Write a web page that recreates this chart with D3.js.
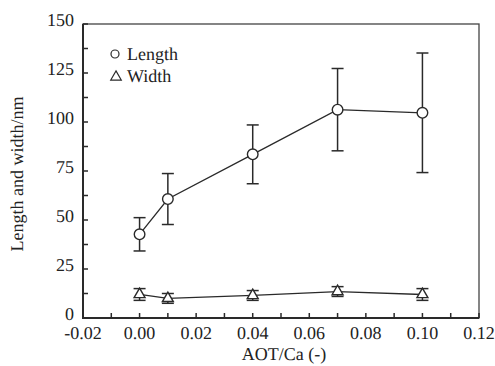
<!DOCTYPE html>
<html>
<head>
  <meta charset="UTF-8">
  <title>Length and width vs AOT/Ca</title>
  <script src="https://d3js.org/d3.v7.min.js"></script>
  <style>
    body { margin: 0; background: #fff; }
  </style>
</head>
<body>
  <script>
    // values
    const aotCa = [0.00, 0.01, 0.04, 0.07, 0.10];
    const lengthMean = [42.7, 60.7, 83.5, 106.3, 104.7];
    const lengthErr = [8.5, 13, 15, 21, 30.5];
    const widthMean = [12, 10, 11.5, 13.5, 12];
    const widthErr = [3, 2.5, 2.5, 2.5, 3];
    const xTicks = [-0.02, 0.00, 0.02, 0.04, 0.06, 0.08, 0.10, 0.12];
    const yTicks = [0, 25, 50, 75, 100, 125, 150];

    const W = 495, H = 366;
    const plot = { left: 83, right: 479, top: 24, bottom: 318 };
    const serif = "'Liberation Serif', serif";

    const svg = d3.select("body").append("svg")
      .attr("width", W)
      .attr("height", H)
      .attr("text-rendering", "geometricPrecision");

    const x = d3.scaleLinear().domain([-0.02, 0.12]).range([plot.left, plot.right]);
    const y = d3.scaleLinear().domain([0, 150]).range([plot.bottom, plot.top]);

    const ink = "#2a2a2a";

    function label(sel) {
      return sel.attr("font-family", serif)
        .style("font-family", serif, "important")
        .attr("font-size", 18)
        .attr("fill", "#222");
    }

    // frame: top/right thinner
    svg.append("rect")
      .attr("x", plot.left).attr("y", plot.top)
      .attr("width", plot.right - plot.left)
      .attr("height", plot.bottom - plot.top)
      .attr("fill", "none").attr("stroke", "#444").attr("stroke-width", 1.3);

    svg.append("path")
      .attr("d", `M${plot.left},${plot.top}V${plot.bottom}H${plot.right}`)
      .attr("fill", "none").attr("stroke", ink).attr("stroke-width", 2);

    // inner ticks (major + minor)
    const yMinor = d3.range(0, 150.01, 12.5);
    svg.append("g").selectAll("line").data(yMinor).join("line")
      .attr("x1", plot.left).attr("x2", plot.left + 5)
      .attr("y1", d => y(d)).attr("y2", d => y(d))
      .attr("stroke", ink).attr("stroke-width", 1.5);

    const xMinor = d3.range(-0.02, 0.1201, 0.01);
    svg.append("g").selectAll("line").data(xMinor).join("line")
      .attr("x1", d => x(d)).attr("x2", d => x(d))
      .attr("y1", plot.bottom).attr("y2", plot.bottom - 5)
      .attr("stroke", ink).attr("stroke-width", 1.5);

    // tick labels
    svg.append("g").selectAll("text").data(yTicks).join("text")
      .call(label)
      .attr("x", plot.left - 9)
      .attr("y", d => y(d) - 4)
      .attr("dy", "0.35em")
      .attr("text-anchor", "end")
      .text(d => d);

    svg.append("g").selectAll("text").data(xTicks).join("text")
      .call(label)
      .attr("x", d => x(d))
      .attr("y", plot.bottom + 21)
      .attr("text-anchor", "middle")
      .text(d => d3.format(".2f")(d).replace("−", "-"));

    // axis titles
    svg.append("text")
      .call(label)
      .attr("x", (plot.left + plot.right) / 2 + 3)
      .attr("y", 360)
      .attr("text-anchor", "middle")
      .text("AOT/Ca (-)");

    svg.append("text")
      .call(label)
      .attr("transform", `translate(23,${(plot.top + plot.bottom) / 2 + 3}) rotate(-90)`)
      .attr("text-anchor", "middle")
      .text("Length and width/nm");

    // series
    function drawSeries(means, errs, symbol) {
      const pts = aotCa.map((v, i) => ({ x: v, y: means[i], e: errs[i] }));
      const g = svg.append("g");

      g.append("path")
        .datum(pts)
        .attr("fill", "none")
        .attr("stroke", ink)
        .attr("stroke-width", 1.3)
        .attr("d", d3.line().x(d => x(d.x)).y(d => y(d.y)));

      const bars = g.selectAll(".err").data(pts).join("g");
      bars.append("line")
        .attr("x1", d => x(d.x)).attr("x2", d => x(d.x))
        .attr("y1", d => y(d.y - d.e)).attr("y2", d => y(d.y + d.e))
        .attr("stroke", ink).attr("stroke-width", 1.5);
      [-1, 1].forEach(s => {
        bars.append("line")
          .attr("x1", d => x(d.x) - 6).attr("x2", d => x(d.x) + 6)
          .attr("y1", d => y(d.y + s * d.e)).attr("y2", d => y(d.y + s * d.e))
          .attr("stroke", ink).attr("stroke-width", 1.5);
      });

      g.selectAll(".mk").data(pts).join("path")
        .attr("transform", d => `translate(${x(d.x)},${y(d.y)})`)
        .attr("d", symbol)
        .attr("fill", "#fff")
        .attr("stroke", ink)
        .attr("stroke-width", 1.4);
    }

    drawSeries(lengthMean, lengthErr, d3.symbol(d3.symbolCircle, Math.PI * 5.3 * 5.3)());
    drawSeries(widthMean, widthErr, d3.symbol(d3.symbolTriangle, 52)());

    // legend
    const legend = svg.append("g");
    legend.append("circle")
      .attr("cx", 115).attr("cy", 54).attr("r", 4)
      .attr("fill", "#fff").attr("stroke", ink).attr("stroke-width", 1.2);
    legend.append("path")
      .attr("transform", "translate(116,77)")
      .attr("d", d3.symbol(d3.symbolTriangle, 48)())
      .attr("fill", "#fff").attr("stroke", ink).attr("stroke-width", 1.2);
    legend.append("text").call(label)
      .attr("x", 127).attr("y", 60).text("Length");
    legend.append("text").call(label)
      .attr("x", 127).attr("y", 82).text("Width");
  </script>
</body>
</html>
